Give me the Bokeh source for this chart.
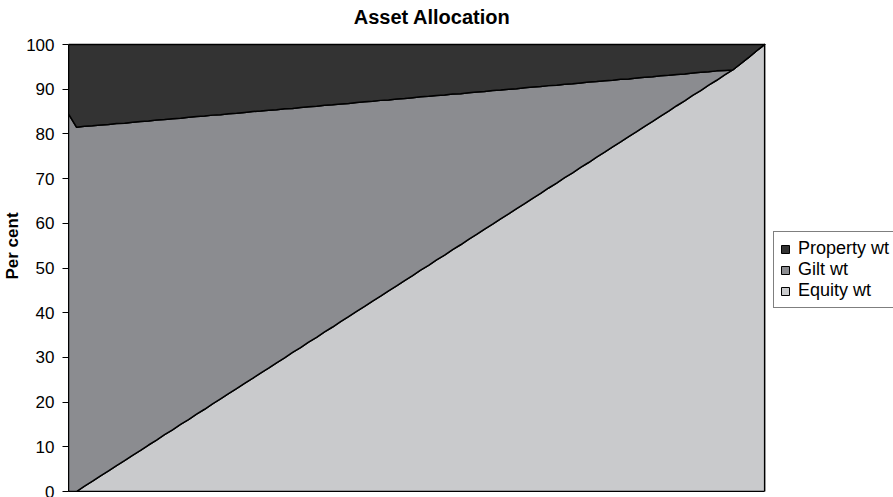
import numpy as np
from bokeh.plotting import figure
from bokeh.models import ColumnDataSource, Range1d, FixedTicker, Legend, LegendItem, LinearAxis, Label
from bokeh.embed import file_html
from bokeh.resources import INLINE

# ---- data ----
periods = list(range(88))

equity_wt = [0, 0, 1.2, 2.3, 3.5, 4.6, 5.8, 6.9, 8.1, 9.2,
             10.4, 11.5, 12.7, 13.8, 15.0, 16.1, 17.3, 18.4, 19.6, 20.7,
             21.9, 23.0, 24.2, 25.3, 26.5, 27.6, 28.8, 29.9, 31.1, 32.2,
             33.4, 34.5, 35.7, 36.8, 38.0, 39.1, 40.3, 41.4, 42.6, 43.7,
             44.9, 46.0, 47.2, 48.3, 49.5, 50.6, 51.8, 52.9, 54.1, 55.2,
             56.4, 57.5, 58.7, 59.8, 61.0, 62.1, 63.3, 64.4, 65.6, 66.7,
             67.9, 69.0, 70.2, 71.3, 72.5, 73.6, 74.8, 75.9, 77.1, 78.2,
             79.4, 80.5, 81.7, 82.8, 84.0, 85.1, 86.3, 87.4, 88.6, 89.7,
             90.9, 92.0, 93.2, 94.3, 95.7, 97.1, 98.6, 100.0]

gilt_wt = [84.5, 81.5, 80.5, 79.5, 78.5, 77.5, 76.5, 75.5, 74.5, 73.6,
           72.5, 71.6, 70.5, 69.6, 68.5, 67.6, 66.6, 65.6, 64.6, 63.6,
           62.6, 61.6, 60.6, 59.7, 58.6, 57.7, 56.6, 55.7, 54.6, 53.7,
           52.7, 51.7, 50.7, 49.7, 48.7, 47.7, 46.7, 45.8, 44.7, 43.8,
           42.7, 41.8, 40.7, 39.8, 38.8, 37.8, 36.8, 35.8, 34.8, 33.8,
           32.8, 31.9, 30.8, 29.9, 28.8, 27.9, 26.8, 25.9, 24.9, 23.9,
           22.9, 21.9, 20.9, 19.9, 18.9, 18.0, 16.9, 16.0, 14.9, 14.0,
           12.9, 12.0, 11.0, 10.0, 9.0, 8.0, 7.0, 6.0, 5.0, 4.1,
           3.0, 2.1, 1.0, 0, 0, 0, 0, 0]

property_wt = [15.5, 18.5, 18.3, 18.2, 18.0, 17.9, 17.7, 17.6, 17.4, 17.2,
               17.1, 16.9, 16.8, 16.6, 16.5, 16.3, 16.1, 16.0, 15.8, 15.7,
               15.5, 15.4, 15.2, 15.0, 14.9, 14.7, 14.6, 14.4, 14.3, 14.1,
               13.9, 13.8, 13.6, 13.5, 13.3, 13.2, 13.0, 12.8, 12.7, 12.5,
               12.4, 12.2, 12.1, 11.9, 11.7, 11.6, 11.4, 11.3, 11.1, 11.0,
               10.8, 10.6, 10.5, 10.3, 10.2, 10.0, 9.9, 9.7, 9.5, 9.4,
               9.2, 9.1, 8.9, 8.8, 8.6, 8.4, 8.3, 8.1, 8.0, 7.8,
               7.7, 7.5, 7.3, 7.2, 7.0, 6.9, 6.7, 6.6, 6.4, 6.2,
               6.1, 5.9, 5.8, 5.7, 4.3, 2.9, 1.4, 0]

series_labels = ["Equity wt", "Gilt wt", "Property wt"]
y_ticks = [0, 10, 20, 30, 40, 50, 60, 70, 80, 90, 100]
title_text = "Asset Allocation"
y_label = "Per cent"

colors = ["#c9cacc", "#8b8c90", "#333333"]
FONT = "Liberation Sans"

# ---- layout geometry (pixels) ----
W, H = 893, 497
PLOT_LEFT, PLOT_RIGHT, PLOT_TOP, PLOT_BOTTOM = 67, 764, 44, 491

n_last = periods[-1]
px_per_x = (PLOT_RIGHT - PLOT_LEFT) / n_last
px_per_y = (PLOT_BOTTOM - PLOT_TOP) / 100.0
x_end = (W - PLOT_LEFT) / px_per_x          # frame extends to the right edge (room for legend)
y_end = PLOT_BOTTOM / px_per_y               # frame extends to the top edge (room for title)

p = figure(width=W, height=H, output_backend="svg", toolbar_location=None,
           x_range=Range1d(0, x_end), y_range=Range1d(0, y_end),
           x_axis_location=None, title=None,
           min_border_left=PLOT_LEFT, min_border_right=0, min_border_top=0,
           min_border_bottom=H - PLOT_BOTTOM)
p.grid.visible = False
p.background_fill_color = "white"
p.border_fill_color = "white"
p.outline_line_color = None

# stacked areas as closed patches (outlined like the original)
eq = np.array(equity_wt, dtype=float)
gi = np.array(gilt_wt, dtype=float)
pr = np.array(property_wt, dtype=float)
levels = [np.zeros_like(eq), eq, eq + gi, eq + gi + pr]
xs = list(periods) + list(periods[::-1])
renderers = []
for k in range(3):
    ys = list(levels[k + 1]) + list(levels[k][::-1])
    r = p.patch(x=xs, y=ys, fill_color=colors[k], line_color="black", line_width=1.5,
                line_join="round")
    renderers.append(r)

# x axis line only (no ticks / labels), spanning the data
xax = LinearAxis(ticker=FixedTicker(ticks=[]), bounds=(0, n_last),
                 axis_line_color="black", axis_line_width=1,
                 major_tick_line_color=None, minor_tick_line_color=None,
                 major_tick_in=0, major_tick_out=0, minor_tick_in=0, minor_tick_out=0,
                 major_label_standoff=0, major_label_text_font_size="0px")
p.add_layout(xax, "below")

yax = p.yaxis[0]
yax.ticker = FixedTicker(ticks=y_ticks)
yax.bounds = (0, 100)
yax.axis_line_color = "black"
yax.major_tick_line_color = "black"
yax.major_tick_in = 0
yax.major_tick_out = 6
yax.minor_tick_line_color = None
yax.major_label_text_font = FONT
yax.major_label_text_font_size = "17px"
yax.major_label_text_color = "black"
yax.major_label_standoff = 8
yax.axis_label = y_label
yax.axis_label_text_font = FONT
yax.axis_label_text_font_size = "17px"
yax.axis_label_text_font_style = "bold"
yax.axis_label_text_color = "black"
yax.axis_label_standoff = 1

# legend swatches: hidden zero-size quads (black-bordered swatches)
proxies = []
for c in colors:
    q = p.quad(left=[0], right=[0], top=[0], bottom=[0], fill_color=c,
               line_color="black", line_width=1)
    q.visible = False
    proxies.append(q)
items = [LegendItem(label=series_labels[i], renderers=[proxies[i]]) for i in (2, 1, 0)]
legend = Legend(items=items, location=(772 - PLOT_LEFT, PLOT_BOTTOM - 308),
                orientation="vertical",
                label_text_font=FONT, label_text_font_size="18px", label_text_color="black",
                glyph_width=10, glyph_height=10, label_height=20, spacing=0,
                padding=6, label_standoff=8, margin=0,
                border_line_color="black", border_line_width=1,
                background_fill_color="white", background_fill_alpha=1)
p.add_layout(legend)

# chart title
p.add_layout(Label(x=(431 - PLOT_LEFT) / px_per_x, y=(PLOT_BOTTOM - 16) / px_per_y,
                   text=title_text, text_align="center", text_baseline="middle",
                   text_font=FONT, text_font_size="20px", text_font_style="bold",
                   text_color="black"))

open("out.html", "w").write(file_html(p, INLINE))
